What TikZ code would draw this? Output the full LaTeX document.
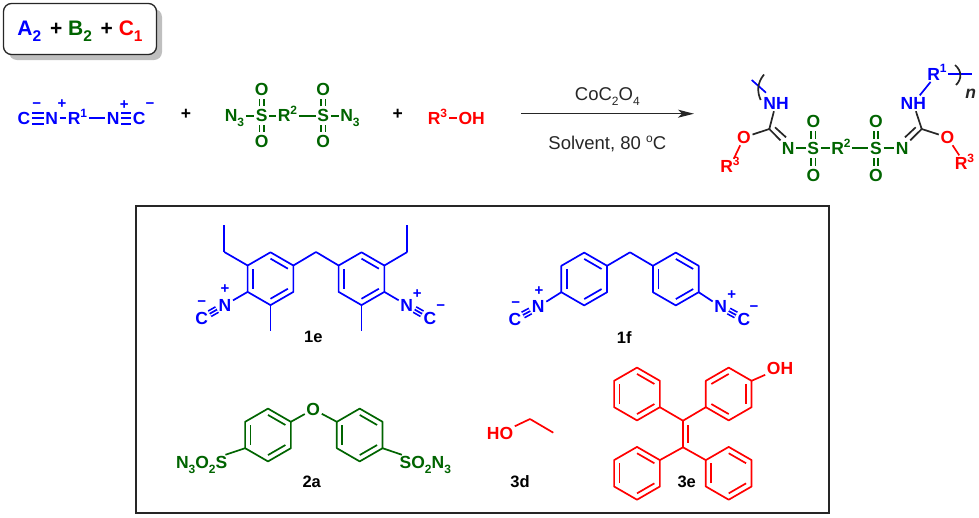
\documentclass[tikz,border=0pt]{standalone}
\usepackage{fontspec}
\setmainfont{Liberation Sans}
\usepackage{tikz}
\usetikzlibrary{arrows.meta}
\usetikzlibrary{calc}
\usetikzlibrary{shadows}
\definecolor{chemblue}{RGB}{0,0,255}
\definecolor{chemgreen}{RGB}{0,100,0}
\definecolor{chemred}{RGB}{255,0,0}
\newcommand{\sups}[1]{\smash{\raisebox{0.42em}{\fontsize{12}{12}\selectfont #1}}}
\newcommand{\subs}[1]{\smash{\raisebox{-0.28em}{\fontsize{12}{12}\selectfont #1}}}
% ring: name, centre x, centre y, edges with an inner line, bond style
\newcommand{\benzene}[5]{
	\coordinate (#1) at (#2,#3);
	\foreach \k in {0,...,5} {\coordinate (#1-\k) at ($(#1)+({60*\k-90}:26.4)$);}
	\draw[#5] (#1-0) -- (#1-1) -- (#1-2) -- (#1-3) -- (#1-4) -- (#1-5) -- cycle;
	\foreach \k in {#4} {
		\pgfmathtruncatemacro{\nxt}{mod(\k+1,6)}
		\draw[#5] ($(#1)!0.76!(#1-\k)$) -- ($(#1)!0.76!(#1-\nxt)$);
	}
}
\begin{document}
\begin{tikzpicture}[x=1pt,y=-1pt]
	\tikzset{
		atom/.style={font=\bfseries\fontsize{17.5}{17.5}\selectfont,text height=12.5pt,text depth=0pt,inner sep=1.5pt},
		atomA/.style={atom,text=chemblue},
		atomB/.style={atom,text=chemgreen},
		atomC/.style={atom,text=chemred},
		charge/.style={font=\bfseries\fontsize{15}{15}\selectfont,inner sep=0pt,text=chemblue},
		cmpd/.style={font=\bfseries\fontsize{16.5}{16.5}\selectfont,inner sep=0pt},
		cond/.style={font=\fontsize{18.5}{18.5}\selectfont,inner sep=0pt,text=black!85},
		bond/.style={line width=1.7pt,line join=round},
		bondA/.style={bond,draw=chemblue},
		bondB/.style={bond,draw=chemgreen},
		bondC/.style={bond,draw=chemred},
		bondK/.style={bond,draw=black!85},
		dbl/.style={double,double distance=#1},
		oxo/.style={double,double distance=2.8pt,shorten <=1.5pt,shorten >=1.5pt},
	}
	\useasboundingbox (0,0) rectangle (979,517);

	% legend and frame
	\node[draw=black!85,line width=1.3pt,fill=white,rounded corners=8pt,minimum width=153pt,minimum height=51pt,inner sep=0pt,
		drop shadow={shadow xshift=5.5pt,shadow yshift=-5.5pt,fill=black!25,opacity=1},
		font=\bfseries\fontsize{21}{21}\selectfont] (legend) at (80,29)
		{\raisebox{2pt}{\textcolor{chemblue}{A\subs{\fontsize{15.5}{15.5}\selectfont 2}}\hspace{3pt} + \textcolor{chemgreen}{B\subs{\fontsize{15.5}{15.5}\selectfont 2}}\hspace{3pt} + \textcolor{chemred}{C\subs{\fontsize{15.5}{15.5}\selectfont 1}}}\hspace{6pt}};
	\node[draw=black!85,line width=1.3pt,minimum width=693pt,minimum height=307pt,inner sep=0pt] (frame) at (482.5,359.5) {};

	% monomer A2
	\node[atomA] (c1) at (24,118.3) {C};
	\node[atomA] (n1) at (51.7,118.3) {N};
	\node[atomA] (r1) at (77.5,118.3) {R\sups{1}};
	\node[atomA] (n2) at (113.3,118.3) {N};
	\node[atomA] (c2) at (139.3,118.3) {C};
	\node[charge] (m1) at (36.7,106) {−};
	\node[charge] (p1) at (62,104.5) {+};
	\node[charge] (p2) at (124.3,105) {+};
	\node[charge] (m2) at (150,106) {−};
	\path[bondA] (c1) edge[dbl=9.4pt] (n1) (n2) edge[dbl=9.4pt] (c2);
	\path[bondA] (c1) edge (n1) (n2) edge (c2) (n1) edge (r1) (r1) edge (n2);

	\node[atom] (plus1) at (186,113.3) {+};

	% monomer B2
	\node[atomB] (az1) at (234.5,115.7) {N\subs{3}};
	\node[atomB] (s1) at (261.7,115.7) {S};
	\node[atomB] (o1) at (261.7,89.3) {O};
	\node[atomB] (o2) at (261.7,141.7) {O};
	\node[atomB] (r2) at (287.5,115.7) {R\sups{2}};
	\node[atomB] (s2) at (323.3,115.7) {S};
	\node[atomB] (o3) at (323.3,89.3) {O};
	\node[atomB] (o4) at (323.3,141.7) {O};
	\node[atomB] (az2) at (350,115.7) {N\subs{3}};
	\path[bondB] (az1) edge (s1) (s1) edge (r2) (r2) edge (s2) (s2) edge (az2);
	\path[bondB] (s1) edge[oxo] (o1) (s1) edge[oxo] (o2) (s2) edge[oxo] (o3) (s2) edge[oxo] (o4);

	\node[atom] (plus2) at (397.7,113.3) {+};

	% monomer C1
	\node[atomC] (r3) at (437.5,118.3) {R\sups{3}};
	\node[atomC] (oh) at (471.7,118.3) {OH};
	\path[bondC] (r3) edge (oh);

	% reaction arrow
	\coordinate (arrS) at (521,113.7);
	\coordinate (arrE) at (694,113.7);
	\draw[-{Stealth[length=16pt,width=8pt,inset=4pt]},line width=1.2pt,black!85] (arrS) -- (arrE);
	\node[cond] (cat) at (607.3,94) {CoC\subs{2}O\subs{4}};
	\node[cond] (solv) at (607.3,144.3) {Solvent, 80 \sups{o}C};

	% product
	\node[atomA] (pNH1) at (776,103.3) {NH};
	\node[atomA] (pNH2) at (913.3,103.3) {NH};
	\node[atomA] (pR1) at (937,74) {R\sups{1}};
	\coordinate (pC1) at (769.3,129);
	\coordinate (pC2) at (921.7,129);
	\node[atomC] (pO1) at (744,137.3) {O};
	\node[atomC] (pO2) at (947.3,137.3) {O};
	\node[atomC] (pR3a) at (730,166.7) {R\sups{3}};
	\node[atomC] (pR3b) at (964.5,163.3) {R\sups{3}};
	\node[atomB] (pN1) at (788.3,148.3) {N};
	\node[atomB] (pS1) at (813.3,148.3) {S};
	\node[atomB] (pO3) at (813.3,121.7) {O};
	\node[atomB] (pO4) at (813.3,175) {O};
	\node[atomB] (pR2) at (841,148.3) {R\sups{2}};
	\node[atomB] (pS2) at (876,148.3) {S};
	\node[atomB] (pO5) at (876,121.7) {O};
	\node[atomB] (pO6) at (876,175) {O};
	\node[atomB] (pN2) at (902.3,148.3) {N};
	\path[bondK]
	(pNH1) edge (pC1)
	(pC1) edge (pO1)
	(pC1) edge (pN1)
	(pNH2) edge (pC2)
	(pC2) edge (pO2)
	(pC2) edge (pN2);
	\coordinate (pC1d) at (775,127.3);
	\coordinate (pN1d) at (786,137.3);
	\coordinate (pC2d) at (915.7,127.3);
	\coordinate (pN2d) at (905,137.3);
	\path[bondK] (pC1d) edge (pN1d) (pC2d) edge (pN2d);
	\path[bondC] (pO1) edge (pR3a) (pO2) edge (pR3b);
	\path[bondB] (pN1) edge (pS1) (pS1) edge (pR2) (pR2) edge (pS2) (pS2) edge (pN2);
	\path[bondB] (pS1) edge[oxo] (pO3) (pS1) edge[oxo] (pO4) (pS2) edge[oxo] (pO5) (pS2) edge[oxo] (pO6);
	\path[bondA] (pNH2) edge (pR1);
	% chain ends
	\coordinate (tickA) at (751.7,80);
	\coordinate (tickB) at (766,92.7);
	\coordinate (tickC) at (971.7,74);
	\draw[bondA] (tickA) -- (tickB);
	\draw[bondA] (pR1) -- (tickC);
	\coordinate (paL1) at (764,74.5);
	\coordinate (paL2) at (760.7,100);
	\coordinate (paR1) at (955,65);
	\coordinate (paR2) at (956,85);
	\draw[bondK] (paL1) .. controls (757,83) and (757,92) .. (paL2);
	\draw[bondK] (paR1) .. controls (962,71) and (962,79) .. (paR2);
	\node[font=\bfseries\itshape\fontsize{17.5}{17.5}\selectfont,inner sep=0pt,text=black!85] (nn) at (970.7,94) {n};

	% 1e
	\benzene{eL}{270.5}{278.7}{0,2,4}{bondA}
	\benzene{eR}{361.5}{278.7}{0,2,4}{bondA}
	\coordinate (eCH) at (316,252);
	\coordinate (eEt1) at (224.3,252);
	\coordinate (eEt2) at (224.3,225);
	\coordinate (eEt3) at (407.3,252);
	\coordinate (eEt4) at (407.3,225);
	\coordinate (eMe1) at (270.5,331);
	\coordinate (eMe2) at (361.5,331);
	\node[atomA] (eN1) at (225,305) {N};
	\node[atomA] (eC1) at (201.7,318.3) {C};
	\node[atomA] (eN2) at (406.7,305) {N};
	\node[atomA] (eC2) at (430,318.3) {C};
	\node[charge] (eP1) at (225,289.5) {+};
	\node[charge] (eM1) at (201.7,304) {−};
	\node[charge] (eP2) at (417.3,294.3) {+};
	\node[charge] (eM2) at (440.7,307.3) {−};
	\path[bondA]
	(eL-1) edge (eCH)
	(eCH) edge (eR-5)
	(eL-5) edge (eEt1)
	(eEt1) edge (eEt2)
	(eR-1) edge (eEt3)
	(eEt3) edge (eEt4)
	(eL-3) edge (eMe1)
	(eR-3) edge (eMe2)
	(eL-4) edge (eN1)
	(eR-2) edge (eN2);
	\path[bondA] (eN1) edge[dbl=4.4pt] (eC1) (eN2) edge[dbl=4.4pt] (eC2);
	\path[bondA] (eN1) edge (eC1) (eN2) edge (eC2);
	\node[cmpd] (l1e) at (313.3,336.7) {1e};

	% 1f
	\benzene{fL}{584.2}{279}{0,2,4}{bondA}
	\benzene{fR}{675.8}{279}{0,2,4}{bondA}
	\coordinate (fCH) at (630,252.3);
	\node[atomA] (fN1) at (538.3,306.7) {N};
	\node[atomA] (fC1) at (515,319.3) {C};
	\node[atomA] (fN2) at (720.7,306.7) {N};
	\node[atomA] (fC2) at (744,319.3) {C};
	\node[charge] (fP1) at (539,290.7) {+};
	\node[charge] (fM1) at (515.7,305) {−};
	\node[charge] (fP2) at (731.7,295) {+};
	\node[charge] (fM2) at (754,308.3) {−};
	\path[bondA]
	(fL-1) edge (fCH)
	(fCH) edge (fR-5)
	(fL-4) edge (fN1)
	(fR-2) edge (fN2);
	\path[bondA] (fN1) edge[dbl=4.4pt] (fC1) (fN2) edge[dbl=4.4pt] (fC2);
	\path[bondA] (fN1) edge (fC1) (fN2) edge (fC2);
	\node[cmpd] (l1f) at (624.3,337.3) {1f};

	% 2a
	\benzene{gL}{268}{435}{0,2,4}{bondB}
	\benzene{gR}{359.7}{435}{0,2,4}{bondB}
	\node[atomB] (gO) at (313.3,409.3) {O};
	\node[atomB,anchor=east] (gS1) at (229,462.7) {N\subs{3}O\subs{2}S};
	\node[atomB,anchor=west] (gS2) at (398,462.7) {SO\subs{2}N\subs{3}};
	\path[bondB]
	(gL-1) edge (gO)
	(gO) edge (gR-5)
	(gL-4) edge (gS1)
	(gR-2) edge (gS2);
	\node[cmpd] (l2a) at (311.7,481.7) {2a};

	% 3d
	\node[atomC] (dO) at (500,433.3) {HO};
	\coordinate (dC1) at (530,419);
	\coordinate (dC2) at (553.3,432.7);
	\path[bondC] (dO) edge (dC1) (dC1) edge (dC2);
	\node[cmpd] (l3d) at (520,481.7) {3d};

	% 3e
	\benzene{hA}{637}{394}{0,2,4}{bondC}
	\benzene{hB}{728.7}{394}{1,3,5}{bondC}
	\benzene{hC}{637}{473.3}{0,2,4}{bondC}
	\benzene{hD}{728.7}{473.3}{0,2,4}{bondC}
	\coordinate (hV1) at (683,420.7);
	\coordinate (hV2) at (683,447.3);
	\coordinate (hV3) at (687.8,425);
	\coordinate (hV4) at (687.8,443);
	\node[atomC] (hOH) at (780,368.3) {OH};
	\path[bondC]
	(hA-2) edge (hV1)
	(hB-4) edge (hV1)
	(hC-1) edge (hV2)
	(hD-5) edge (hV2)
	(hV1) edge (hV2)
	(hV3) edge (hV4)
	(hB-1) edge (hOH);
	\node[cmpd] (l3e) at (686.7,481.7) {3e};
\end{tikzpicture}
\end{document}
